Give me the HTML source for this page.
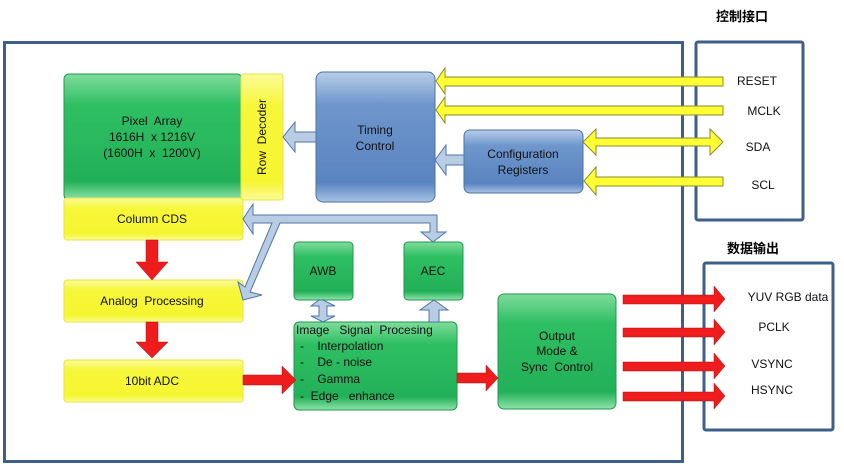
<!DOCTYPE html>
<html><head><meta charset="utf-8"><style>
html,body{margin:0;padding:0;background:#fff;}
svg{display:block;font-family:"Liberation Sans","Noto Sans CJK SC",sans-serif;}
text{white-space:pre;}
</style></head><body>
<svg width="844" height="464" viewBox="0 0 844 464" xmlns="http://www.w3.org/2000/svg" xml:space="preserve">
<defs>
<linearGradient id="g" x1="0" y1="0" x2="0" y2="1">
<stop offset="0" stop-color="#7fdc9c"/><stop offset="0.25" stop-color="#2fbf63"/><stop offset="0.85" stop-color="#22b058"/><stop offset="1" stop-color="#8fe3aa"/></linearGradient>
<linearGradient id="y" x1="0" y1="0" x2="0" y2="1">
<stop offset="0" stop-color="#fbfb9a"/><stop offset="0.25" stop-color="#f7f73a"/><stop offset="0.85" stop-color="#f5f530"/><stop offset="1" stop-color="#fbfb9a"/></linearGradient>
<linearGradient id="b" x1="0" y1="0" x2="0" y2="1">
<stop offset="0" stop-color="#b8cde8"/><stop offset="0.25" stop-color="#6f96cc"/><stop offset="0.85" stop-color="#5a84c0"/><stop offset="1" stop-color="#a9c2e4"/></linearGradient>
</defs>
<rect x="4.5" y="42.5" width="678" height="419" fill="none" stroke="#3e5f8a" stroke-width="3"/>
<rect x="696" y="42" width="107" height="178" rx="2" fill="none" stroke="#3e5f8a" stroke-width="3"/>
<rect x="704" y="263" width="129" height="167" rx="2" fill="none" stroke="#3e5f8a" stroke-width="3"/>
<text x="742" y="21" font-size="13" font-weight="bold" text-anchor="middle">控制接口</text>
<text x="753" y="253" font-size="13" font-weight="bold" text-anchor="middle">数据输出</text>

<rect x="64" y="74" width="178" height="126" rx="5" fill="url(#g)" stroke="#1f9a4c"/>
<rect x="241" y="74" width="42" height="126" rx="3" fill="url(#y)" stroke="#e6e640"/>
<rect x="64" y="198" width="179" height="42" rx="3" fill="url(#y)" stroke="#e6e640"/>
<rect x="316" y="72" width="119" height="130" rx="7" fill="url(#b)" stroke="#4a72a8"/>
<rect x="464" y="130" width="119" height="63" rx="6" fill="url(#b)" stroke="#4a72a8"/>
<rect x="64" y="280" width="179" height="42" rx="3" fill="url(#y)" stroke="#e6e640"/>
<rect x="64" y="360" width="179" height="42" rx="3" fill="url(#y)" stroke="#e6e640"/>
<rect x="294" y="242" width="59" height="58" rx="4" fill="url(#g)" stroke="#1f9a4c"/>
<rect x="404" y="242" width="59" height="58" rx="4" fill="url(#g)" stroke="#1f9a4c"/>
<rect x="294" y="322" width="163" height="88" rx="5" fill="url(#g)" stroke="#1f9a4c"/>
<rect x="498" y="294" width="118" height="115" rx="6" fill="url(#g)" stroke="#1f9a4c"/>

<g font-size="12" fill="#111" text-anchor="middle">
<text x="152" y="125">Pixel  Array</text>
<text x="152" y="141">1616H  x 1216V</text>
<text x="152" y="157">(1600H  x  1200V)</text>
<text x="262" y="137" transform="rotate(-90 262 137)" dy="4">Row  Decoder</text>
<text x="152" y="223">Column CDS</text>
<text x="375" y="134">Timing</text>
<text x="375" y="150">Control</text>
<text x="523" y="158">Configuration</text>
<text x="523" y="174">Registers</text>
<text x="152" y="305">Analog  Processing</text>
<text x="152" y="385">10bit ADC</text>
<text x="323" y="275">AWB</text>
<text x="433" y="275">AEC</text>
<text x="557" y="340">Output</text>
<text x="557" y="355">Mode &amp;</text>
<text x="557" y="371">Sync  Control</text>
<text x="757" y="85">RESET</text>
<text x="764" y="115">MCLK</text>
<text x="758" y="151">SDA</text>
<text x="763" y="189">SCL</text>
<text x="788" y="301">YUV RGB data</text>
<text x="774" y="331">PCLK</text>
<text x="772" y="368">VSYNC</text>
<text x="772" y="394">HSYNC</text>
</g>
<g font-size="12" fill="#111">
<text x="296" y="334">Image   Signal  Procesing</text>
<text x="300" y="350">-    Interpolation</text>
<text x="300" y="366">-    De - noise</text>
<text x="300" y="383">-    Gamma</text>
<text x="300" y="400">-  Edge   enhance</text>
</g>

<g fill="#ffff33" stroke="#8a8a30" stroke-width="1">
<polygon points="723,77 445,77 445,68 436,81 445,94 445,86 723,86"/>
<polygon points="723,106 445,106 445,97 436,110 445,123 445,115 723,115"/>
<polygon points="596,138 710,138 710,129 723,142 710,155 710,146 596,146 596,155 583,142 596,129"/>
<polygon points="723,177 596,177 596,167 584,181 596,195 596,186 723,186"/>
</g>

<g fill="#b8cce4" stroke="#4f76a8" stroke-width="1">
<polygon points="316,132 295,132 295,122 283,137 295,152 295,142 316,142"/>
<polygon points="464,155 446,155 446,145 435,160 446,175 446,165 464,165"/>
<polygon points="437,223 437,232 446,232 433,242 421,232 430,232 430,223 280,223 250,292 262,295 243,300 238,282 245,287 272,223 253,223 253,234 243,219 253,204 253,215 437,215"/>
<polygon points="319,300 311,306 319,306 319,316 311,316 323,322 335,316 327,316 327,306 335,306 323,300"/>
<polygon points="429,322 429,310 420,310 434,300 448,310 439,310 439,322"/>
</g>

<g fill="#ee1c1c" stroke="#b01010" stroke-width="0.5">
<polygon points="146,240 158,240 158,262 168,262 152,280 136,262 146,262"/>
<polygon points="146,322 158,322 158,342 168,342 152,358 136,342 146,342"/>
<polygon points="243,375 282,375 282,366 296,380 282,394 282,385 243,385"/>
<polygon points="457,373 486,373 486,365 498,378 486,391 486,383 457,383"/>
<polygon points="623,295 714,295 714,286 725,299 714,312 714,304 623,304"/>
<polygon points="623,328 714,328 714,319 725,332 714,345 714,337 623,337"/>
<polygon points="623,362 714,362 714,353 725,366 714,379 714,371 623,371"/>
<polygon points="623,392 714,392 714,383 725,396 714,409 714,401 623,401"/>
</g>
</svg>
</body></html>
